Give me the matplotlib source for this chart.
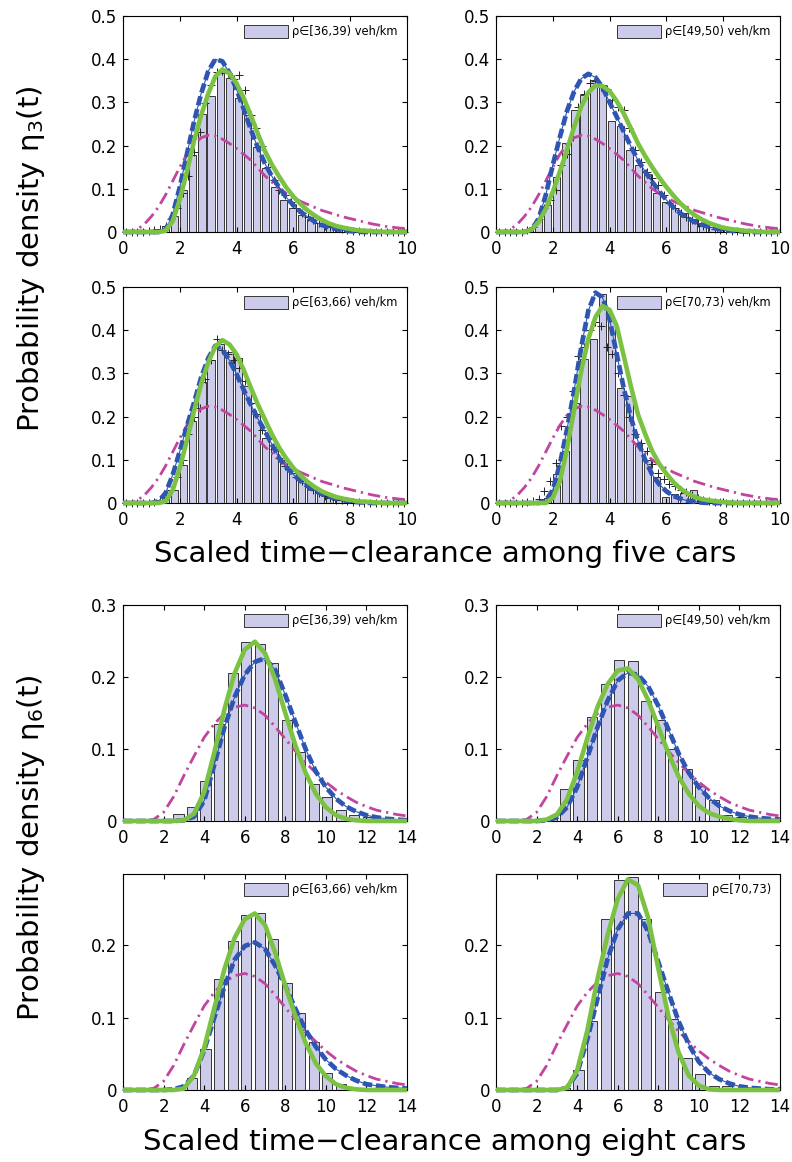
import numpy as np
import matplotlib
matplotlib.use('Agg')
import matplotlib.pyplot as plt
from matplotlib.patches import Patch
from matplotlib.ticker import FormatStrFormatter, MultipleLocator, FixedLocator

plt.rcParams['font.family'] = ['DejaVu Sans']
plt.rcParams['mathtext.default'] = 'regular'

# ---------------- sample grids ----------------
X5 = np.arange(0, 10.001, 0.25)          # curve grid, five cars
X8 = np.arange(0, 14.001, 0.5)           # curve grid, eight cars
BIN5 = 0.22 + 0.32 * np.arange(31)       # histogram bin centres, five cars
BIN8 = 0.07 + (2 / 3) * np.arange(21)    # histogram bin centres, eight cars
PLUS_X = 0.1 + 0.2 * np.arange(50)       # empirical '+' points, five cars

# ---------------- labels ----------------
labels5 = ['ρ∈[36,39) veh/km', 'ρ∈[49,50) veh/km', 'ρ∈[63,66) veh/km', 'ρ∈[70,73) veh/km']
labels8 = ['ρ∈[36,39) veh/km', 'ρ∈[49,50) veh/km', 'ρ∈[63,66) veh/km', 'ρ∈[70,73)']

# ---------------- five cars (eta_3) ----------------
mag5 = [0, 0, 0.006, 0.018, 0.036, 0.058, 0.086, 0.118, 0.150, 0.180, 0.203, 0.218, 0.224, 0.222,
        0.215, 0.205, 0.193, 0.180, 0.166, 0.148, 0.130, 0.115, 0.100, 0.089, 0.080, 0.071, 0.064,
        0.057, 0.050, 0.045, 0.040, 0.035, 0.031, 0.027, 0.023, 0.019, 0.016, 0.013, 0.011, 0.009, 0.008]

green5_a = [0, 0, 0, 0, 0, 0, 0.003, 0.025, 0.075, 0.14, 0.21, 0.27, 0.32, 0.36, 0.376, 0.367, 0.344,
            0.31, 0.27, 0.227, 0.187, 0.155, 0.128, 0.103, 0.082, 0.065, 0.05, 0.038, 0.028, 0.02,
            0.014, 0.01, 0.007, 0.004, 0.003, 0.002, 0.001, 0, 0, 0, 0]
blue5_a = [0, 0, 0, 0, 0, 0, 0.005, 0.04, 0.104, 0.18, 0.255, 0.32, 0.372, 0.40, 0.395, 0.368, 0.33,
           0.285, 0.237, 0.195, 0.158, 0.128, 0.103, 0.08, 0.062, 0.047, 0.035, 0.024, 0.016, 0.011,
           0.007, 0.004, 0.002, 0.001, 0, 0, 0, 0, 0, 0, 0]
hist5_a = [0, 0.002, 0.003, 0.006, 0.015, 0.036, 0.097, 0.178, 0.274, 0.315, 0.369, 0.356, 0.31, 0.27,
           0.197, 0.147, 0.104, 0.075, 0.055, 0.04, 0.03, 0.02, 0.013, 0.008, 0.005, 0.004, 0.003,
           0.002, 0.001, 0.001, 0]
plus5_a = [0, 0, 0, 0, 0.002, 0.004, 0.008, 0.015, 0.03, 0.055, 0.09, 0.13, 0.185, 0.232, 0.298,
           0.34, 0.37, 0.372, 0.368, 0.355, 0.363, 0.328, 0.27, 0.24, 0.2, 0.15, 0.12, 0.097, 0.085,
           0.07, 0.055, 0.045, 0.035, 0.028, 0.02, 0.015, 0.012, 0.009, 0.006, 0.004, 0.003, 0.002,
           0.001, 0.001, 0.001, 0, 0, 0, 0, 0]

green5_b = [0, 0, 0, 0, 0, 0.006, 0.023, 0.053, 0.093, 0.14, 0.19, 0.243, 0.29, 0.323, 0.339, 0.338,
            0.326, 0.303, 0.274, 0.24, 0.205, 0.176, 0.15, 0.126, 0.104, 0.084, 0.066, 0.051, 0.039,
            0.029, 0.021, 0.015, 0.01, 0.007, 0.005, 0.003, 0.002, 0.001, 0, 0, 0]
blue5_b = [0, 0, 0, 0, 0, 0.006, 0.03, 0.085, 0.155, 0.22, 0.28, 0.325, 0.355, 0.366, 0.358, 0.335,
           0.30, 0.267, 0.232, 0.198, 0.166, 0.14, 0.116, 0.094, 0.074, 0.057, 0.043, 0.032, 0.023,
           0.017, 0.012, 0.008, 0.005, 0.003, 0.002, 0.001, 0, 0, 0, 0, 0]
hist5_b = [0, 0.001, 0.002, 0.005, 0.027, 0.062, 0.128, 0.205, 0.282, 0.317, 0.352, 0.34, 0.257, 0.245,
           0.19, 0.155, 0.135, 0.09, 0.07, 0.055, 0.045, 0.03, 0.02, 0.012, 0.008, 0.005, 0.003,
           0.002, 0.001, 0.001, 0]
plus5_b = [0, 0, 0, 0, 0.001, 0.004, 0.012, 0.03, 0.055, 0.075, 0.097, 0.155, 0.18, 0.22, 0.29,
           0.32, 0.345, 0.35, 0.335, 0.332, 0.305, 0.29, 0.282, 0.24, 0.19, 0.162, 0.14, 0.125, 0.108,
           0.085, 0.066, 0.055, 0.045, 0.035, 0.028, 0.02, 0.015, 0.011, 0.008, 0.005, 0.004, 0.003,
           0.002, 0.001, 0.001, 0, 0, 0, 0, 0]

green5_c = [0, 0, 0, 0, 0, 0, 0.004, 0.03, 0.081, 0.145, 0.212, 0.275, 0.325, 0.362, 0.377, 0.367,
            0.344, 0.308, 0.267, 0.228, 0.193, 0.158, 0.128, 0.103, 0.081, 0.064, 0.049, 0.037, 0.027,
            0.02, 0.014, 0.01, 0.007, 0.004, 0.003, 0.002, 0.001, 0, 0, 0, 0]
blue5_c = [0, 0, 0, 0, 0, 0.004, 0.023, 0.065, 0.12, 0.178, 0.232, 0.29, 0.335, 0.364, 0.355, 0.33,
           0.298, 0.262, 0.228, 0.195, 0.166, 0.135, 0.104, 0.083, 0.066, 0.051, 0.039, 0.029, 0.021,
           0.015, 0.01, 0.007, 0.004, 0.002, 0.001, 0, 0, 0, 0, 0, 0]
hist5_c = [0, 0.001, 0.002, 0.004, 0.012, 0.03, 0.089, 0.19, 0.28, 0.33, 0.367, 0.35, 0.335, 0.27,
           0.205, 0.15, 0.13, 0.1, 0.07, 0.05, 0.04, 0.022, 0.015, 0.01, 0.006, 0.004, 0.003, 0.002,
           0.001, 0.001, 0]
plus5_c = [0, 0, 0, 0, 0.001, 0.003, 0.008, 0.015, 0.03, 0.06, 0.1, 0.16, 0.2, 0.22, 0.286, 0.332,
           0.38, 0.355, 0.344, 0.33, 0.313, 0.282, 0.232, 0.205, 0.17, 0.15, 0.125, 0.104, 0.085,
           0.077, 0.06, 0.05, 0.04, 0.03, 0.022, 0.016, 0.012, 0.008, 0.006, 0.004, 0.003, 0.002,
           0.001, 0.001, 0, 0, 0, 0, 0, 0]

green5_d = [0, 0, 0, 0, 0, 0, 0, 0, 0.012, 0.05, 0.125, 0.215, 0.305, 0.38, 0.43, 0.456, 0.447, 0.41,
            0.34, 0.27, 0.205, 0.16, 0.12, 0.09, 0.068, 0.048, 0.033, 0.022, 0.014, 0.009, 0.006,
            0.004, 0.002, 0.001, 0, 0, 0, 0, 0, 0, 0]
blue5_d = [0, 0, 0, 0, 0, 0, 0, 0.005, 0.03, 0.09, 0.17, 0.26, 0.36, 0.445, 0.487, 0.476, 0.425,
           0.345, 0.265, 0.198, 0.143, 0.1, 0.066, 0.043, 0.027, 0.016, 0.01, 0.005, 0.003, 0.001,
           0, 0, 0, 0, 0, 0, 0, 0, 0, 0, 0]
hist5_d = [0, 0, 0.001, 0.002, 0.005, 0.012, 0.066, 0.12, 0.232, 0.333, 0.38, 0.484, 0.426, 0.267,
           0.248, 0.14, 0.1, 0.06, 0.015, 0.02, 0.022, 0.03, 0.008, 0.005, 0.003, 0.002, 0.001, 0, 0,
           0, 0]
plus5_d = [0, 0, 0, 0, 0, 0.002, 0.004, 0.01, 0.027, 0.05, 0.093, 0.178, 0.2, 0.26, 0.34, 0.36, 0.4,
           0.419, 0.41, 0.36, 0.345, 0.3, 0.25, 0.2, 0.16, 0.14, 0.12, 0.09, 0.07, 0.055, 0.045, 0.04,
           0.03, 0.025, 0.018, 0.012, 0.008, 0.005, 0.003, 0.002, 0.001, 0, 0, 0, 0, 0, 0, 0, 0, 0]

# ---------------- eight cars (eta_6) ----------------
mag8 = [0, 0, 0, 0.002, 0.012, 0.034, 0.063, 0.09, 0.116, 0.135, 0.149, 0.158, 0.161, 0.157, 0.147,
        0.131, 0.114, 0.097, 0.081, 0.067, 0.054, 0.043, 0.034, 0.026, 0.02, 0.015, 0.012, 0.009, 0.007]

green8_a = [0, 0, 0, 0, 0, 0, 0.001, 0.01, 0.04, 0.095, 0.155, 0.205, 0.238, 0.249, 0.233, 0.197,
            0.15, 0.105, 0.067, 0.038, 0.019, 0.008, 0.003, 0.001, 0, 0, 0, 0, 0]
blue8_a = [0, 0, 0, 0, 0, 0, 0.001, 0.006, 0.028, 0.078, 0.13, 0.172, 0.203, 0.221, 0.226, 0.21,
           0.175, 0.137, 0.1, 0.069, 0.047, 0.031, 0.02, 0.013, 0.008, 0.005, 0.003, 0.002, 0.001]
hist8_a = [0, 0, 0.001, 0.002, 0.01, 0.019, 0.056, 0.135, 0.205, 0.248, 0.246, 0.219, 0.14, 0.096,
           0.052, 0.033, 0.015, 0.009, 0.005, 0.001, 0]

green8_b = [0, 0, 0, 0, 0, 0.002, 0.009, 0.03, 0.068, 0.115, 0.158, 0.19, 0.209, 0.212, 0.197, 0.168,
            0.131, 0.094, 0.062, 0.038, 0.021, 0.011, 0.006, 0.003, 0.001, 0, 0, 0, 0]
blue8_b = [0, 0, 0, 0, 0, 0.001, 0.005, 0.019, 0.047, 0.088, 0.13, 0.167, 0.195, 0.206, 0.203, 0.187,
           0.16, 0.127, 0.094, 0.067, 0.047, 0.032, 0.021, 0.014, 0.009, 0.006, 0.004, 0.003, 0.002]
hist8_b = [0, 0, 0.001, 0.002, 0.004, 0.044, 0.085, 0.145, 0.19, 0.224, 0.222, 0.167, 0.14, 0.1,
           0.072, 0.048, 0.029, 0.009, 0.005, 0.002, 0.001]

green8_c = [0, 0, 0, 0, 0, 0, 0.002, 0.02, 0.058, 0.113, 0.167, 0.21, 0.236, 0.244, 0.228, 0.19,
            0.144, 0.102, 0.065, 0.037, 0.019, 0.008, 0.003, 0.001, 0, 0, 0, 0, 0]
blue8_c = [0, 0, 0, 0, 0, 0.001, 0.005, 0.02, 0.055, 0.1, 0.143, 0.18, 0.199, 0.204, 0.195, 0.172,
           0.144, 0.112, 0.083, 0.06, 0.042, 0.029, 0.02, 0.013, 0.008, 0.006, 0.004, 0.003, 0.002]
hist8_c = [0, 0, 0.001, 0.001, 0.002, 0.016, 0.056, 0.154, 0.206, 0.242, 0.244, 0.208, 0.148, 0.106,
           0.067, 0.023, 0.008, 0.003, 0.002, 0.002, 0]

green8_d = [0, 0, 0, 0, 0, 0, 0, 0.003, 0.027, 0.082, 0.153, 0.214, 0.264, 0.291, 0.283, 0.238,
            0.168, 0.102, 0.052, 0.02, 0.006, 0.001, 0, 0, 0, 0, 0, 0, 0]
blue8_d = [0, 0, 0, 0, 0, 0, 0, 0.003, 0.023, 0.07, 0.126, 0.181, 0.222, 0.244, 0.244, 0.219, 0.177,
           0.135, 0.095, 0.063, 0.039, 0.024, 0.015, 0.009, 0.005, 0.003, 0.002, 0.001, 0.001]
hist8_d = [0, 0, 0.001, 0.002, 0.002, 0.003, 0.028, 0.096, 0.237, 0.29, 0.294, 0.237, 0.136, 0.098,
           0.044, 0.022, 0.005, 0.005, 0.001, 0, 0]

# ---------------- styles ----------------
BAR = '#ccccea'
BLUE = '#2f55b3'
GREEN = '#7cc242'
MAG = '#c2449f'

W, H = 792, 1162
fig = plt.figure(figsize=(W / 100, H / 100), dpi=100)

col_left = [123 / W, 496 / W]
aw = 284 / W
ah = 216 / H
row_top_px = [16, 287, 605, 874]


def make_ax(row, col):
    top = row_top_px[row]
    return fig.add_axes([col_left[col], 1 - (top + 216) / H, aw, ah])


def draw(ax, xg, bins, hist, bw, mag, blue, green, plus, label, xmax, ymax, yticks):
    ax.bar(bins, hist, width=bw, color=BAR, edgecolor='#1a1a1a', linewidth=0.6, zorder=1)
    if plus is not None:
        ax.plot(PLUS_X, plus, '+', color='#222222', ms=6, mew=0.7, zorder=2, clip_on=False)
    ax.plot(xg, mag, color=MAG, lw=2.0, dashes=(4.5, 1.8, 0.8, 1.8), zorder=3, clip_on=False)
    ax.plot(xg, blue, color=BLUE, lw=3.4, dashes=(2.0, 0.8), zorder=4, clip_on=False)
    ax.plot(xg, blue, color=BLUE, lw=0.8, zorder=5, clip_on=False)
    ax.plot(xg, green, color=GREEN, lw=3.3, zorder=6, clip_on=False, solid_capstyle='butt')
    ax.set_xlim(0, xmax)
    ax.set_ylim(0, ymax)
    ax.xaxis.set_major_locator(MultipleLocator(2))
    ax.yaxis.set_major_locator(FixedLocator(yticks))
    ax.yaxis.set_major_formatter(FormatStrFormatter('%g'))
    ax.tick_params(direction='in', top=True, right=True, length=3.6, width=0.8,
                   labelsize=12, colors='black')
    ax.tick_params(axis='x', pad=6)
    ax.tick_params(axis='y', pad=4)
    for s in ax.spines.values():
        s.set_linewidth(0.8)
    h = Patch(facecolor=BAR, edgecolor='#1a1a1a', linewidth=0.6)
    ax.legend([h], [label], loc='upper right', frameon=False,
              prop={'size': 8.3, 'family': ['DejaVu Sans']},
              handlelength=3.8, handleheight=1.3, handletextpad=0.4,
              borderaxespad=0.4, borderpad=0.4)


five = [(hist5_a, blue5_a, green5_a, plus5_a), (hist5_b, blue5_b, green5_b, plus5_b),
        (hist5_c, blue5_c, green5_c, plus5_c), (hist5_d, blue5_d, green5_d, plus5_d)]
eight = [(hist8_a, blue8_a, green8_a), (hist8_b, blue8_b, green8_b),
         (hist8_c, blue8_c, green8_c), (hist8_d, blue8_d, green8_d)]

for i, (hh, bb, gg, pp) in enumerate(five):
    ax = make_ax(i // 2, i % 2)
    draw(ax, X5, BIN5, hh, 0.25, mag5, bb, gg, pp, labels5[i], 10, 0.5,
         [0, 0.1, 0.2, 0.3, 0.4, 0.5])

for i, (hh, bb, gg) in enumerate(eight):
    ax = make_ax(2 + i // 2, i % 2)
    if i < 2:
        ymax, yt = 0.3, [0, 0.1, 0.2, 0.3]
    else:
        ymax, yt = 0.2985, [0, 0.1, 0.2]
    draw(ax, X8, BIN8, hh, 0.5, mag8, bb, gg, None, labels8[i], 14, ymax, yt)

fig.text(31 / W, 1 - 259 / H, 'Probability density η$_3$(t)', rotation=90,
         ha='center', va='center', fontsize=21)
fig.text(31 / W, 1 - 848 / H, 'Probability density η$_6$(t)', rotation=90,
         ha='center', va='center', fontsize=21)
fig.text(445 / W, 1 - 562 / H, 'Scaled time\u2212clearance among five cars',
         ha='center', va='baseline', fontsize=21)
fig.text(445 / W, 1 - 1150 / H, 'Scaled time\u2212clearance among eight cars',
         ha='center', va='baseline', fontsize=21)

fig.savefig('out.png', dpi=100)
